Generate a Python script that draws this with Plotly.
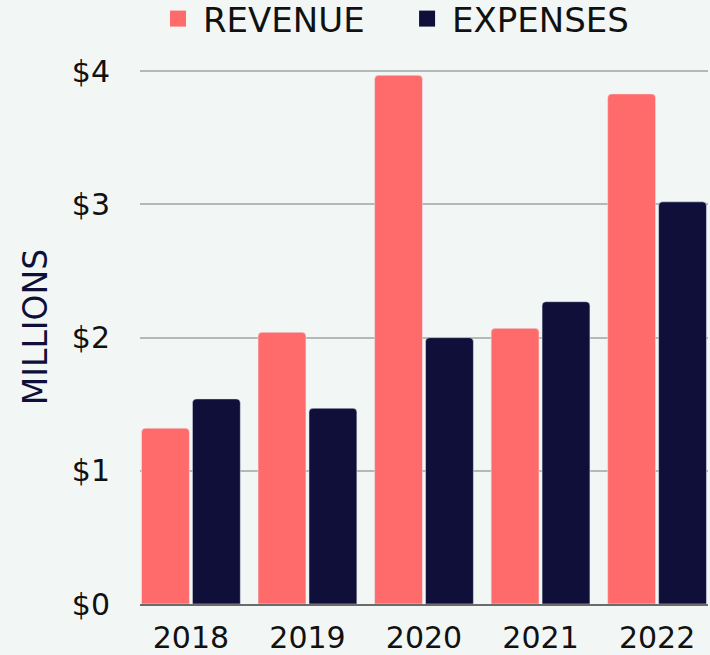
import plotly.graph_objects as go

years = ["2018", "2019", "2020", "2021", "2022"]
revenue = [1.32, 2.04, 3.97, 2.07, 3.83]
expenses = [1.54, 1.47, 2.00, 2.27, 3.02]
tick_vals = [0, 1, 2, 3, 4]
tick_text = ["$0", "$1", "$2", "$3", "$4"]

RED = "#ff6b6b"
NAVY = "#0f0f3a"
BG = "#f2f7f5"
FONT = "DejaVu Sans"
FS = 30
NB = "\u00a0"

fig = go.Figure()
fig.add_trace(go.Bar(x=list(range(len(years))), y=revenue, marker_color=RED, name="REVENUE", showlegend=False))
fig.add_trace(go.Bar(x=list(range(len(years))), y=expenses, marker_color=NAVY, name="EXPENSES", showlegend=False))
# legend proxies
fig.add_trace(go.Scatter(x=[None], y=[None], mode="markers", marker=dict(symbol="square", size=16, color=RED),
                         name="REVENUE" + NB * 3))
fig.add_trace(go.Scatter(x=[None], y=[None], mode="markers", marker=dict(symbol="square", size=16, color=NAVY),
                         name="EXPENSES"))

fig.update_layout(
    width=710, height=655,
    margin=dict(l=140, r=2, t=50, b=51, autoexpand=False),
    paper_bgcolor=BG, plot_bgcolor=BG,
    barmode="group", bargap=0.126, bargroupgap=0.06,
    barcornerradius=4,
    font=dict(family=FONT, size=FS, color="#111111"),
    legend=dict(orientation="h", xref="container", x=153 / 710, xanchor="left",
                yref="container", y=1 - 19 / 655, yanchor="middle",
                font=dict(size=34, color="#111111"),
                itemwidth=40, bgcolor="rgba(0,0,0,0)", tracegroupgap=0),
    showlegend=True,
)
fig.update_xaxes(
    tickvals=list(range(len(years))), ticktext=years,
    range=[-0.437, 4.437], showgrid=False, zeroline=False,
    showline=True, linecolor="#6b6b6b", linewidth=2,
    ticks="", ticklabelstandoff=6, fixedrange=True,
)
fig.update_yaxes(
    range=[0, 4.16], tickvals=tick_vals, ticktext=tick_text,
    showgrid=True, gridcolor="#b4b9b7", gridwidth=2, zeroline=False,
    ticks="", ticklabelstandoff=29,
    title=dict(text="MILLIONS", font=dict(size=33, color=NAVY), standoff=14),
)
fig.write_html(
    "out.html",
    config={"displayModeBar": False},
    post_script="document.body.style.margin='0';document.body.style.overflow='hidden';document.documentElement.style.overflow='hidden';",
)
